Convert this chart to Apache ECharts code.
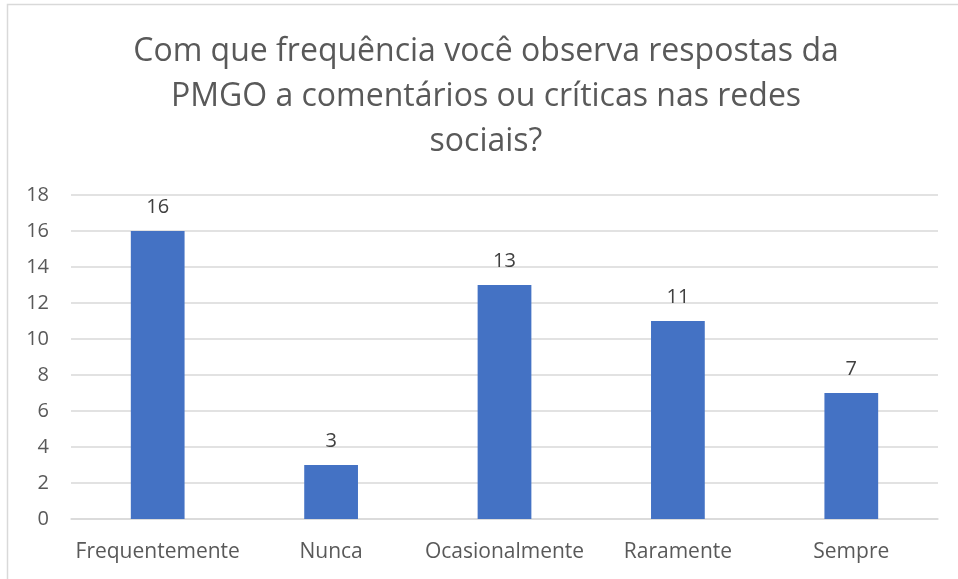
<!DOCTYPE html>
<html>
<head>
<meta charset="utf-8">
<script src="https://cdn.jsdelivr.net/npm/echarts@6/dist/echarts.min.js"></script>
<style>
  html, body { margin: 0; padding: 0; background: #fff; }
  #chart { width: 958px; height: 579px; }
</style>
</head>
<body>
<div id="chart"></div>
<script>
// dados do gráfico
var categorias = ['Frequentemente', 'Nunca', 'Ocasionalmente', 'Raramente', 'Sempre'];
var respostas = [16, 3, 13, 11, 7];
var titulo = 'Com que frequência você observa respostas da\nPMGO a comentários ou críticas nas redes\nsociais?';

var myChart = echarts.init(document.getElementById('chart'));
var fonte = '"Open Sans", "Noto Sans", sans-serif';

var option = {
  backgroundColor: '#fff',
  animation: false,
  graphic: [{
    type: 'rect',
    shape: { x: 7.5, y: 4.5, width: 960, height: 600 },
    style: { fill: 'none', stroke: '#d9d9d9', lineWidth: 1.5 },
    silent: true
  }, {
    // título centralizado um pouco à direita, como no original
    type: 'text',
    x: 486,
    y: 29,
    silent: true,
    style: {
      text: titulo,
      textAlign: 'center',
      textVerticalAlign: 'top',
      fontFamily: fonte,
      fontSize: 32,
      lineHeight: 45,
      fill: '#595959'
    }
  }],
  grid: { left: 71, right: 20, top: 195, bottom: 60 },
  xAxis: {
    type: 'category',
    data: categorias,
    axisLine: { lineStyle: { color: '#d9d9d9', width: 1.5 } },
    axisTick: { show: false },
    axisLabel: {
      interval: 0,
      fontFamily: fonte,
      fontSize: 21,
      color: '#595959',
      margin: 23
    }
  },
  yAxis: {
    type: 'value',
    min: 0,
    max: 18,
    interval: 2,
    axisLine: { show: false },
    axisTick: { show: false },
    splitLine: { lineStyle: { color: '#d9d9d9', width: 1.5 } },
    axisLabel: {
      fontFamily: fonte,
      fontSize: 20,
      color: '#595959',
      margin: 22
    }
  },
  series: [{
    type: 'bar',
    data: respostas,
    barWidth: '31%',
    itemStyle: { color: '#4472c4' },
    label: {
      show: true,
      position: 'top',
      distance: 14,
      fontFamily: fonte,
      fontSize: 20,
      color: '#404040'
    }
  }]
};

myChart.setOption(option);
</script>
</body>
</html>
